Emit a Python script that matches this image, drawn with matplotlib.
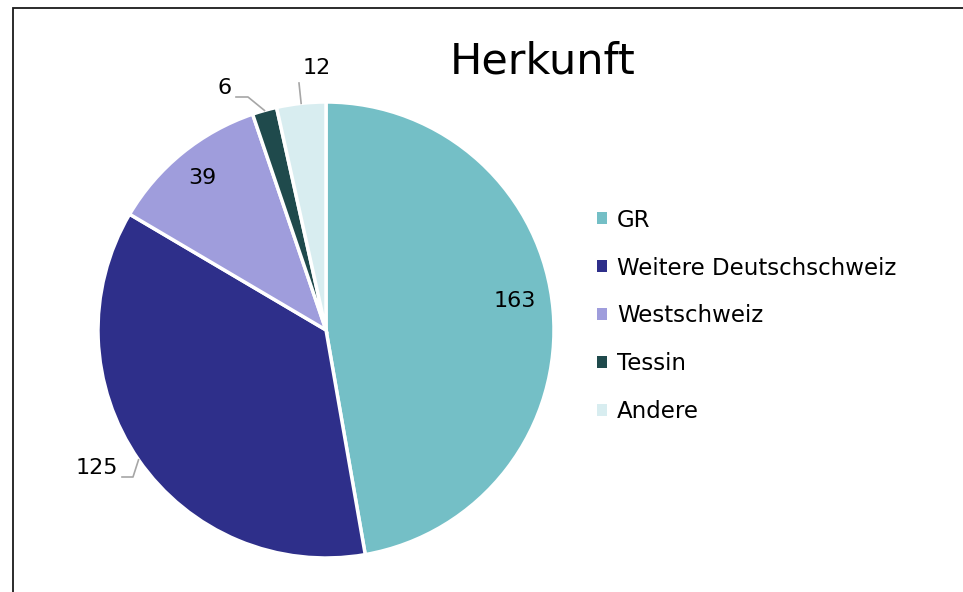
"""Pie chart 'Herkunft' (origin of participants)."""
import matplotlib
matplotlib.use("Agg")
import matplotlib.pyplot as plt
from matplotlib.patches import Rectangle
import numpy as np

# data
categories = ["GR", "Weitere Deutschschweiz", "Westschweiz", "Tessin", "Andere"]
values = [163, 125, 39, 6, 12]
colors = ["#74BFC6", "#2E2F8A", "#9F9DDC", "#1F4A4C", "#D8EDF0"]

W, H = 963, 592
CX, CY, R = 326, H - 330, 228
LEADER = "#A6A6A6"

plt.rcParams["font.family"] = ["DejaVu Sans"]

fig = plt.figure(figsize=(W / 100, H / 100), dpi=100)
ax = fig.add_axes([0, 0, 1, 1])

wedges, _ = ax.pie(
    values, colors=colors, startangle=90, counterclock=False,
    center=(CX, CY), radius=R,
    wedgeprops=dict(edgecolor="white", linewidth=2.5),
)
ax.set_xlim(0, W)
ax.set_ylim(0, H)
ax.set_aspect("auto")
ax.axis("off")

# chart frame (cut off at right/bottom like the screenshot)
ax.add_patch(Rectangle((13, -20), W + 40, H - 8 + 20, fill=False,
                       edgecolor="#1a1a1a", linewidth=1.3, zorder=0))

# mid angles of each wedge (degrees, math convention)
total = float(sum(values))
cum = np.cumsum([0] + values[:-1])
mid = 90 - (cum + np.array(values) / 2) / total * 360


def edge_pt(k, rf=1.0):
    a = np.deg2rad(mid[k])
    return CX + rf * R * np.cos(a), CY + rf * R * np.sin(a)


FS = 16
# inside labels
x, y = edge_pt(0, 0.83)
ax.text(x, y + 13, str(values[0]), fontsize=FS, ha="center", va="center")
x, y = edge_pt(2, 0.86)
ax.text(x, y, str(values[2]), fontsize=FS, ha="center", va="center")

# outside labels with leader lines: (index, label anchor, elbow, text pos, ha)
outside = [
    (1, (122, 477), (133, 477), (118, 468), "right"),
    (3, (236, 97), (248, 97), (232, 88), "right"),
    (4, (299, 83), (299, 83), (303, 68), "left"),
]
for k, p0, p1, tp, ha in outside:
    ex, ey = edge_pt(k, 1.0)
    ax.plot([p0[0], p1[0], ex], [H - p0[1], H - p1[1], ey],
            color=LEADER, linewidth=1.2, zorder=3)
    ax.text(tp[0], H - tp[1], str(values[k]), fontsize=FS,
            ha=ha, va="center")

ax.text(543, H - 62, "Herkunft", fontsize=31, ha="center", va="center")

leg = ax.legend(
    wedges, categories, loc="center left",
    bbox_to_anchor=(597 / W, 1 - 316 / H), frameon=False,
    fontsize=16.5, handlelength=0.42, handleheight=0.42,
    handletextpad=0.45, labelspacing=1.09, borderpad=0, borderaxespad=0,
)
for h in leg.legend_handles:
    h.set_edgecolor("none")

fig.savefig("out.png", dpi=100)
